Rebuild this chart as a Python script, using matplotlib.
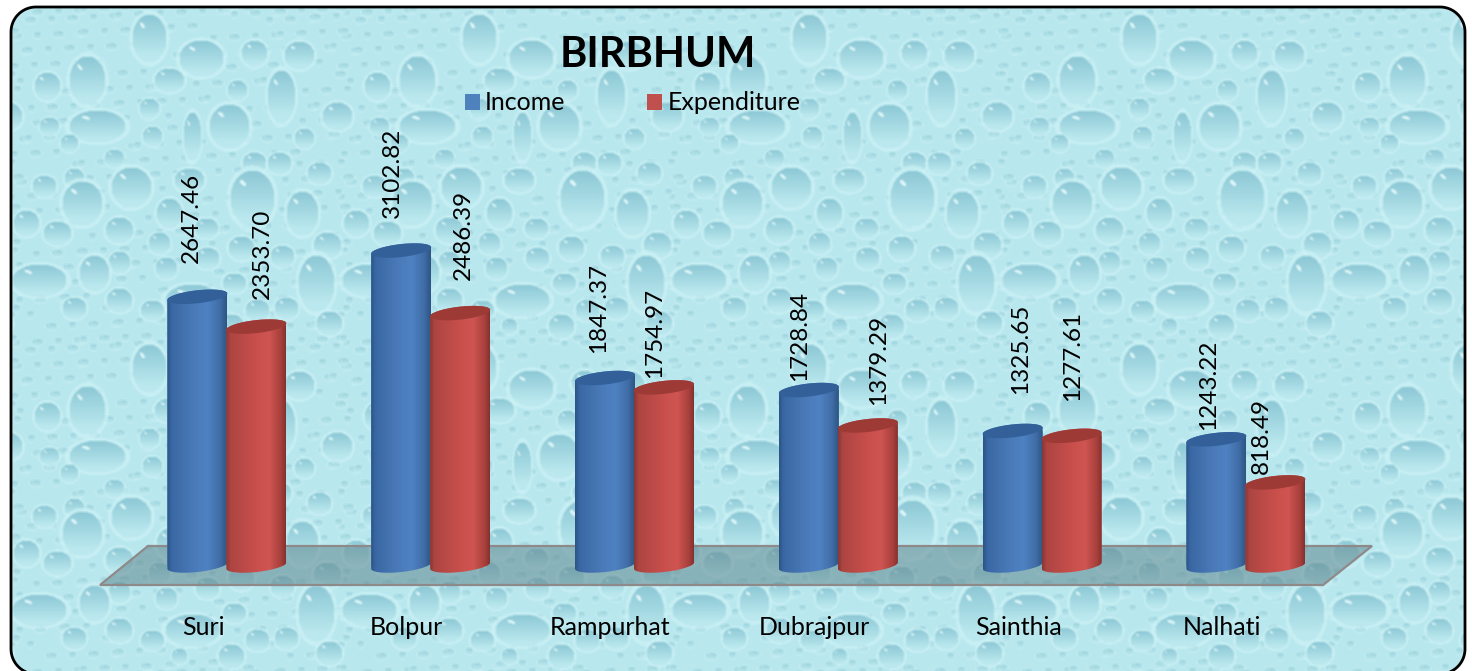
import numpy as np
import matplotlib
matplotlib.use("Agg")
import matplotlib.pyplot as plt
from matplotlib.colors import LinearSegmentedColormap
from matplotlib.patches import Polygon
from matplotlib.path import Path

plt.rcParams["font.family"] = ["Lato", "DejaVu Sans"]

towns = ["Suri", "Bolpur", "Rampurhat", "Dubrajpur", "Sainthia", "Nalhati"]
income = [2647.46, 3102.82, 1847.37, 1728.84, 1325.65, 1243.22]
expenditure = [2353.70, 2486.39, 1754.97, 1379.29, 1277.61, 818.49]

# label nudges in pixels (dx, dy), the labels sit by hand in the original
income_nudge = [(-6, 34), (-9, 33), (-6, 25), (-9, 9), (8, 37), (-8, 9)]
expenditure_nudge = [(6, 28), (3, 33), (-9, 9), (11, 21), (1, 35), (-14, 8)]

# water drops of the background tile: x, y, half width, half height
drops = [
    (140, 30, 17, 24), (192, 50, 22, 18), (245, 45, 13, 13), (290, 47, 15, 14),
    (78, 72, 18, 24), (272, 88, 14, 26), (88, 118, 28, 16), (220, 118, 20, 22),
    (183, 128, 9, 24), (160, 72, 15, 12), (38, 78, 13, 14), (328, 108, 15, 14),
    (140, 100, 10, 10), (228, 82, 10, 10), (40, 118, 10, 9), (143, 128, 10, 10),
    (60, 135, 9, 9), (105, 150, 10, 9), (245, 155, 12, 11), (270, 155, 12, 11),
    (295, 130, 10, 10), (310, 165, 12, 11), (65, 170, 10, 10), (35, 178, 12, 11),
    (73, 195, 20, 22), (122, 179, 20, 20), (180, 172, 15, 12), (243, 190, 22, 28),
    (293, 205, 16, 22), (17, 215, 13, 13), (48, 225, 14, 12), (110, 222, 14, 13),
    (160, 205, 13, 15), (197, 220, 12, 10), (150, 235, 11, 11), (232, 240, 13, 12),
    (318, 237, 14, 13), (273, 248, 12, 11), (198, 250, 12, 11), (110, 254, 11, 11),
    (85, 265, 15, 18), (157, 260, 11, 11), (225, 275, 12, 10), (307, 275, 18, 28),
    (30, 272, 27, 16), (110, 292, 13, 12), (65, 300, 12, 11), (183, 292, 27, 16),
    (143, 302, 12, 10), (248, 302, 12, 11), (277, 300, 12, 11), (320, 315, 13, 12),
    (222, 318, 13, 12), (170, 318, 8, 8),
]

W, H = 1472, 671
TILE = 330


def add_drop(tile, cx, cy, a, b, strength=1.0):
    yy, xx = np.mgrid[0:TILE, 0:TILE]
    dx = (xx - cx + TILE / 2) % TILE - TILE / 2
    dy = (yy - cy + TILE / 2) % TILE - TILE / 2
    u, v = dx / a, dy / b
    r = np.sqrt(u**2 + v**2)
    ring = (r >= 0.95) & (r < 1.18)
    tile[ring] = tile[ring] * 0.4 + np.array([208, 244, 247]) * 0.6
    inside = r < 1
    shade = (np.clip(0.42 - 0.62 * v, 0, 1) * strength)[..., None]
    col = np.array([186, 232, 238]) * (1 - shade) + np.array([142, 201, 214]) * shade
    tile[inside] = col[inside]
    if a > 5:
        su, sv = u + 0.42, v + 0.55
        spot = (su * 0.8 + sv * 0.6) ** 2 / 0.03 + (su * 0.6 - sv * 0.8) ** 2 / 0.006 < 1
        tile[spot] = [222, 246, 249]


tile = np.ones((TILE, TILE, 3)) * np.array([184, 231, 238])
# tiny drops between the big ones
for i in range(0, TILE, 18):
    for j in range(0, TILE, 18):
        add_drop(tile, i + (j * 7 + i * 3) % 17, j + (i * 5 + j * 2) % 13,
                 4 + (i + j) % 4, 4 + (i * j) % 4, 0.75)
for d in drops:
    add_drop(tile, *d)
# soften, the original is a scaled up bitmap
for axis in (0, 1):
    tile = (np.roll(tile, 1, axis) + tile + np.roll(tile, -1, axis)) / 3

ys = (np.arange(H) - 8) % TILE
xs = (np.arange(W) - 9) % TILE
backdrop = tile[np.ix_(ys, xs)] / 255


def rounded_box(x0, y0, x1, y1, rad):
    pts = []
    for cx, cy, start in ((x1 - rad, y0 + rad, -90), (x1 - rad, y1 - rad, 0),
                          (x0 + rad, y1 - rad, 90), (x0 + rad, y0 + rad, 180)):
        t = np.radians(np.linspace(start, start + 90, 24))
        pts.append(np.c_[cx + rad * np.cos(t), cy + rad * np.sin(t)])
    return np.vstack(pts)


fig = plt.figure(figsize=(W / 100, H / 100), dpi=100, facecolor="white")

# background panel and chart floor, in pixels
bg = fig.add_axes([0, 0, 1, 1])
bg.set_xlim(0, W)
bg.set_ylim(H, 0)
bg.axis("off")
panel = Polygon(rounded_box(11, 7, 1465, 674, 25), closed=True, facecolor="none",
                edgecolor="black", linewidth=2, zorder=3, clip_on=False)
bg.add_patch(panel)
im = bg.imshow(backdrop, extent=(0, W, H, 0), aspect="auto", zorder=1)
im.set_clip_path(panel)
bg.add_patch(Polygon([(100, 585), (1323, 585), (1372, 546), (148, 546)], closed=True,
                     facecolor=(0.38, 0.53, 0.56, 0.55), edgecolor="#8f8a8a", linewidth=1.6, zorder=2))

# chart axes: bottom edge is the base of the bars
PX_PER_CAT = 203.8
PX_PER_VAL = 0.1015
AX_L, AX_R, AX_B, AX_T = 100, 1372, 565.5, 120
ax = fig.add_axes([AX_L / W, 1 - AX_B / H, (AX_R - AX_L) / W, (AX_B - AX_T) / H])
ax.patch.set_alpha(0)
ax.set_xlim((AX_L - 226.9) / PX_PER_CAT, (AX_R - 226.9) / PX_PER_CAT)
ax.set_ylim(0, (AX_B - AX_T) / PX_PER_VAL)
for s in ax.spines.values():
    s.set_visible(False)

x = np.arange(len(towns))
bar_w = 60 / PX_PER_CAT
off = 29.5 / PX_PER_CAT
ell_b = 6.5 / PX_PER_VAL
ell_s = 3.2 / PX_PER_VAL

blue_side = LinearSegmentedColormap.from_list("b", [(0, "#2d5688"), (0.07, "#3a68a4"), (0.45, "#4a7ab8"),
                                                    (0.68, "#4f82c3"), (0.9, "#3f6ca6"), (1, "#2e5583")])
red_side = LinearSegmentedColormap.from_list("r", [(0, "#8a3835"), (0.07, "#ad4542"), (0.5, "#c84f4b"),
                                                   (0.72, "#d05552"), (0.92, "#a8403c"), (1, "#843230")])


def outline(cx, top):
    t = np.linspace(np.pi, 0, 40)
    upper = np.c_[cx + bar_w / 2 * np.cos(t), top + ell_s * np.cos(t) + ell_b * np.sin(t)]
    t = np.linspace(0, -np.pi, 40)
    lower = np.c_[cx + bar_w / 2 * np.cos(t), ell_s * np.cos(t) + ell_b * np.sin(t)]
    return Path(np.r_[upper, lower, upper[:1]], closed=True)


def cap(cx, top):
    t = np.linspace(0, 2 * np.pi, 80)
    return np.c_[cx + bar_w / 2 * np.cos(t), top + ell_s * np.cos(t) + ell_b * np.sin(t)]


def draw_series(xpos, vals, base, side, top_col, z, label):
    bars = ax.bar(xpos, vals, bar_w, color=base, zorder=z, label=label)
    for b, cx, v in zip(bars, xpos, vals):
        p = outline(cx, v)
        b.set_clip_box(None)
        b.set_clip_path(p, ax.transData)
        shade = ax.imshow(np.linspace(0, 1, 64)[None, :], cmap=side, aspect="auto", interpolation="bilinear",
                          extent=(cx - bar_w / 2, cx + bar_w / 2, -2 * ell_b, v + 2 * ell_b), zorder=z + 0.1)
        # images fall back on the axes box when the clip box is None
        shade.set_clip_box(fig.bbox)
        shade.set_clip_path(p, ax.transData)
        ax.add_patch(Polygon(cap(cx, v), closed=True, facecolor=top_col, edgecolor="none",
                             zorder=z + 0.2, clip_on=False))
    return bars


draw_series(x - off, income, "#4f81bd", blue_side, "#34609a", 3, "Income")
draw_series(x + off, expenditure, "#c0504d", red_side, "#9e3a36", 4, "Expenditure")

for xs_, vals, nudge in ((x - off, income, income_nudge), (x + off, expenditure, expenditure_nudge)):
    for cx, v, (dx, dy) in zip(xs_, vals, nudge):
        ax.annotate(f"{v:.2f}", (cx, v), xytext=(dx * 0.72, dy * 0.72), textcoords="offset points",
                    rotation=90, ha="center", va="bottom", fontsize=17.5, color="black",
                    annotation_clip=False, zorder=6)

ax.set_yticks([])
ax.set_xticks(x - 24 / PX_PER_CAT)
ax.set_xticklabels(towns, fontsize=18)
ax.tick_params(axis="x", length=0, pad=36.5)

fig.suptitle("BIRBHUM", x=658 / W, y=1 - 55 / H, va="center", ha="center", fontsize=30, fontweight="bold")
ax.legend(loc="center", bbox_to_anchor=(632.5 / W, 1 - 103 / H), bbox_transform=fig.transFigure, ncol=2,
          frameon=False, fontsize=18, handlelength=0.62, handleheight=0.62, handletextpad=0.2,
          columnspacing=3.25, borderpad=0, borderaxespad=0)

fig.savefig("out.png", dpi=100)
